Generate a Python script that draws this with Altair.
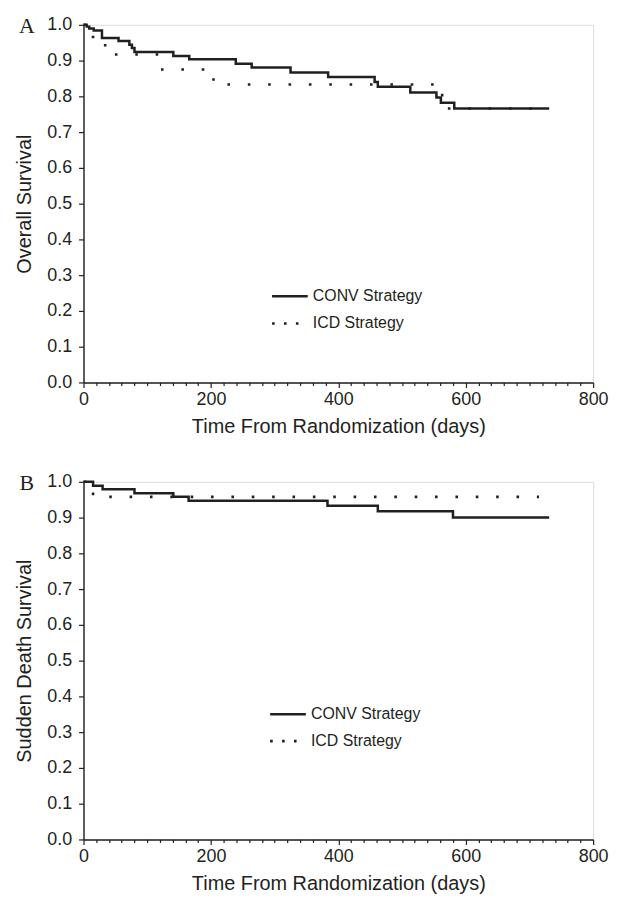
import altair as alt
import pandas as pd

# ---------------- data ----------------
# Panel A: overall survival (Kaplan-Meier steps)
conv_a_days = [0, 5, 9, 16, 29, 55, 72, 76, 80, 141, 166, 239, 264, 325, 384, 457, 462, 513, 554, 561, 582, 731]
conv_a_surv = [1.0, 0.995, 0.990, 0.984, 0.963, 0.955, 0.944, 0.935, 0.924, 0.913, 0.904, 0.891, 0.881,
               0.867, 0.854, 0.840, 0.827, 0.811, 0.797, 0.782, 0.766, 0.766]
icd_a_days = [0, 15, 34, 121, 204, 563, 715]
icd_a_surv = [1.0, 0.958, 0.917, 0.875, 0.833, 0.766, 0.766]

# Panel B: sudden death survival
conv_b_days = [0, 15, 30, 80, 141, 165, 383, 462, 580, 731]
conv_b_surv = [1.0, 0.989, 0.979, 0.968, 0.958, 0.947, 0.933, 0.918, 0.900, 0.900]
icd_b_days = [0, 15, 715]
icd_b_surv = [1.0, 0.958, 0.958]

series_names = ["CONV Strategy", "ICD Strategy"]
x_tick_values = list(range(0, 801, 20))
y_tick_values = [0.0, 0.1, 0.2, 0.3, 0.4, 0.5, 0.6, 0.7, 0.8, 0.9, 1.0]

# legend placement (data coordinates) per panel
legend_a = {"x1": 296, "x2": 352, "x2_icd": 340, "xt": 360, "y": [0.241, 0.165]}
legend_b = {"x1": 293, "x2": 349, "x2_icd": 337, "xt": 357, "y": [0.350, 0.275]}

INK = "#231f20"
FONT = "Liberation Sans"
W, H = 513, 360


def panel(conv_days, conv_surv, icd_days, icd_surv, ytitle, letter, leg):
    df_c = pd.DataFrame({"day": conv_days, "surv": conv_surv})
    df_i = pd.DataFrame({"day": icd_days, "surv": icd_surv})

    xaxis = alt.Axis(
        values=x_tick_values,
        labelExpr="datum.value % 200 === 0 ? datum.label : ''",
        labelOverlap=False,
        labelFlush=False,
        tickSize={"condition": {"test": "datum.value % 200 === 0", "value": 5}, "value": 3},
        tickColor=INK, tickWidth=1.2,
        domainColor=INK, domainWidth=1.4,
        labelFont=FONT, labelFontSize=18, labelColor=INK, labelPadding=3,
        titleFont=FONT, titleFontSize=20, titleFontWeight="normal", titleColor=INK, titlePadding=8,
        grid=False,
    )
    yaxis = alt.Axis(
        values=y_tick_values, format=".1f",
        tickSize=5, tickColor=INK, tickWidth=1.2,
        domainColor=INK, domainWidth=1.4,
        labelFont=FONT, labelFontSize=18, labelColor=INK, labelPadding=7,
        titleFont=FONT, titleFontSize=20, titleFontWeight="normal", titleColor=INK, titlePadding=12,
        grid=False,
    )
    X = alt.X("day:Q", scale=alt.Scale(domain=[0, 800], nice=False, zero=False),
              axis=xaxis, title="Time From Randomization (days)")
    Y = alt.Y("surv:Q", scale=alt.Scale(domain=[0, 1], nice=False),
              axis=yaxis, title=ytitle)

    conv = alt.Chart(df_c).mark_line(interpolate="step-after", color=INK, strokeWidth=2.5,
                                     strokeCap="butt").encode(x=X, y=Y)
    icd = alt.Chart(df_i).mark_line(interpolate="step-after", color=INK, strokeWidth=2.6,
                                    strokeDash=[2.6, 17.9], strokeCap="butt").encode(x=X, y=Y)

    leg_c = pd.DataFrame({"day": [leg["x1"]], "day2": [leg["x2"]], "surv": [leg["y"][0]]})
    leg_i = pd.DataFrame({"day": [leg["x1"]], "day2": [leg["x2_icd"]], "surv": [leg["y"][1]]})
    leg_t = pd.DataFrame({"day": [leg["xt"], leg["xt"]], "surv": leg["y"], "name": series_names})

    lc = alt.Chart(leg_c).mark_rule(color=INK, strokeWidth=2.5).encode(x=X, x2="day2:Q", y=Y)
    li = alt.Chart(leg_i).mark_rule(color=INK, strokeWidth=2.6, strokeDash=[2.6, 9.4],
                                    strokeCap="butt").encode(x=X, x2="day2:Q", y=Y)
    lt = alt.Chart(leg_t).mark_text(align="left", baseline="middle", font=FONT, fontSize=16,
                                    color=INK).encode(x=X, y=Y, text="name:N")

    lab = alt.Chart(pd.DataFrame({"t": [letter]})).mark_text(
        font="Liberation Serif", fontSize=22, color=INK, align="center", baseline="alphabetic"
    ).encode(x=alt.value(-57), y=alt.value(8), text="t:N")

    return alt.layer(conv, icd, lc, li, lt, lab).properties(width=W, height=H)


top = panel(conv_a_days, conv_a_surv, icd_a_days, icd_a_surv, "Overall Survival", "A", legend_a)
bottom = panel(conv_b_days, conv_b_surv, icd_b_days, icd_b_surv, "Sudden Death Survival", "B", legend_b)

chart = alt.vconcat(top, bottom, spacing=34).properties(
    padding={"left": 6, "top": 3, "right": 5, "bottom": 2}
).configure_view(strokeWidth=0).configure(background="white")

chart.save("out.html", embed_options={"renderer": "svg", "actions": False})
